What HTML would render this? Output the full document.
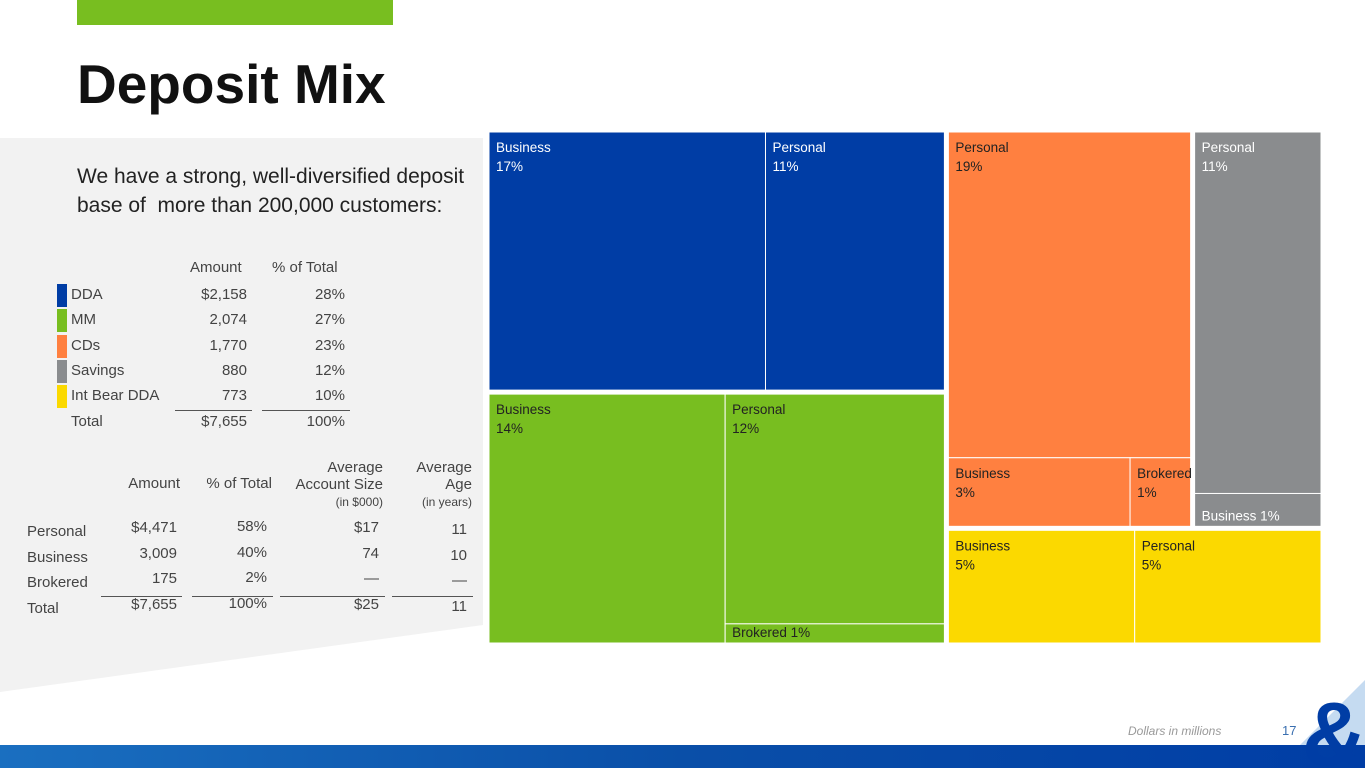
<!DOCTYPE html>
<html><head><meta charset="utf-8"><style>
html,body{margin:0;width:1365px;height:768px;overflow:hidden}
body{background:#fff;font-family:"Liberation Sans",sans-serif;position:relative}
.abs{position:absolute}
.t{position:absolute;font-size:15px;color:#444;white-space:nowrap}
.r{text-align:right}
.ln{position:absolute;height:1px;background:#555}
svg{overflow:hidden}
</style></head><body>
<svg class="abs" style="left:0;top:0" width="1365" height="768">
<polygon points="0,138 483,138 483,625 0,692" fill="#f2f2f2"/>
<rect x="77" y="0" width="316" height="25" fill="#78be20"/>
<defs><linearGradient id="g" x1="0" x2="1"><stop offset="0" stop-color="#1a6fc0"/><stop offset="0.5" stop-color="#0a4fa8"/><stop offset="1" stop-color="#003da5"/></linearGradient></defs>
<rect x="0" y="745" width="1365" height="23" fill="url(#g)"/>
<polygon points="1300,745 1365,680 1365,745" fill="#9fc3e8" opacity="0.6"/>
<text x="1302" y="765" font-family="Liberation Sans" font-weight="bold" font-size="90" fill="#003da5">&amp;</text>
</svg>
<div class="t" style="left:77px;top:52px;font-size:55px;font-weight:900;color:#111">Deposit Mix</div>
<div class="t" style="left:77px;top:162px;font-size:21px;color:#222;line-height:29px">We have a strong, well-diversified deposit<br>base of&nbsp; more than 200,000 customers:</div>

<div>
<div class="t" style="left:190px;top:259px">Amount</div>
<div class="t" style="left:272px;top:259px">% of Total</div>
<div id="pt"></div>
<div class="ln" style="left:175px;top:410px;width:77px"></div>
<div class="ln" style="left:262px;top:410px;width:88px"></div>
</div>

<div>
<div class="t r" style="left:100px;top:475px;width:80px">Amount</div>
<div class="t r" style="left:190px;top:475px;width:82px">% of Total</div>
<div class="t r" style="left:270px;top:459px;width:113px;line-height:17px">Average<br>Account Size<br><span style="font-size:12px">(in $000)</span></div>
<div class="t r" style="left:390px;top:459px;width:82px;line-height:17px">Average<br>Age<br><span style="font-size:12px">(in years)</span></div>
<div id="ct"></div>
<div class="ln" style="left:101px;top:596px;width:81px"></div>
<div class="ln" style="left:192px;top:596px;width:81px"></div>
<div class="ln" style="left:280px;top:596px;width:105px"></div>
<div class="ln" style="left:392px;top:596px;width:81px"></div>
</div>

<svg id="tm" class="abs" style="left:0;top:0" width="1365" height="768"></svg>

<div class="t" style="left:1128px;top:724px;font-size:12px;font-style:italic;color:#999">Dollars in millions</div>
<div class="t" style="left:1282px;top:723px;font-size:13px;color:#3a6fb0">17</div>

<script>
const products=["DDA","MM","CDs","Savings","Int Bear DDA"];
const productAmounts=["$2,158","2,074","1,770","880","773"];
const productPcts=[28,27,23,12,10];
const productColors=["#003da5","#78be20","#ff8040","#8a8c8e","#fbd900"];
const custRows=["Personal","Business","Brokered","Total"];
const custAmt=["$4,471","3,009","175","$7,655"];
const custPct=["58%","40%","2%","100%"];
const custSize=["$17","74","—","$25"];
const custAge=["11","10","—","11"];
const ddaSegs=[["Business",17],["Personal",11]];
const mmSegs=[["Business",14],["Personal",12],["Brokered",1]];
const cdSegs=[["Personal",19],["Business",3],["Brokered",1]];
const savSegs=[["Personal",11],["Business",1]];
const ibSegs=[["Business",5],["Personal",5]];

const pt=document.getElementById('pt');
products.forEach((p,i)=>{
 const y=284+i*25.3;
 const sw=document.createElement('div');sw.className='abs';
 sw.style.cssText=`left:57px;top:${y}px;width:10px;height:23px;background:${productColors[i]}`;
 
 
 pt.appendChild(sw);
 const cells=[[p,71,null],[productAmounts[i],170,77],[productPcts[i]+'%',262,83]];
 cells.forEach(c=>{const d=document.createElement('div');d.className='t'+(c[2]?' r':'');
  d.style.left=c[1]+'px';d.style.top=(y+2)+'px';if(c[2])d.style.width=c[2]+'px';d.textContent=c[0];
  
  
  pt.appendChild(d);});
});
[["Total",71,null],["$7,655",170,77],["100%",262,83]].forEach(c=>{const d=document.createElement('div');d.className='t'+(c[2]?' r':'');
 d.style.left=c[1]+'px';d.style.top='413px';if(c[2])d.style.width=c[2]+'px';d.textContent=c[0];
 
 
 pt.appendChild(d);});

const ct=document.getElementById('ct');
custRows.forEach((r,i)=>{
 const y=521+i*25.5;
 const cells=[[r,27,null,2],[custAmt[i],100,77,-2],[custPct[i],190,77,-3],[custSize[i],280,99,-2],[custAge[i],390,77,0]];
 cells.forEach(c=>{const d=document.createElement('div');d.className='t'+(c[2]?' r':'');
  d.style.left=c[1]+'px';d.style.top=(y+c[3])+'px';if(c[2])d.style.width=c[2]+'px';d.textContent=c[0];
  
  
  ct.appendChild(d);});
});

const svg=document.getElementById('tm');const NS='http://www.w3.org/2000/svg';
const X0=489,Y0=132,W=832,H=511,G=4;
const sum=a=>a.reduce((s,v)=>s+v[1],0);
function rect(x,y,w,h,col,label,val,dark,inline){
 const r=document.createElementNS(NS,'rect');
 r.setAttribute('x',x);r.setAttribute('y',y);r.setAttribute('width',Math.max(0,w));r.setAttribute('height',Math.max(0,h));
 r.setAttribute('fill',col);r.setAttribute('stroke','#fff');r.setAttribute('stroke-width','1');
 
 
 svg.appendChild(r);
 const fc=dark?'#222':'#fff';
 const mk=(tx,ty,s)=>{const t=document.createElementNS(NS,'text');t.setAttribute('x',tx);t.setAttribute('y',ty);
  t.setAttribute('font-size','13.5');t.setAttribute('font-family','Liberation Sans, sans-serif');t.setAttribute('fill',fc);t.textContent=s;
  
  
  svg.appendChild(t);};
 if(inline){mk(x+7,y+h-6,label+' '+val+'%');}
 else{mk(x+7,y+20,label);mk(x+7,y+39,val+'%');}
}
const tot=productPcts.reduce((a,b)=>a+b,0);
const lw=(W-G)*(productPcts[0]+productPcts[1])/tot;
const hD=(H-G)*productPcts[0]/(productPcts[0]+productPcts[1]);
let x=X0;const sD=sum(ddaSegs);
ddaSegs.forEach(s=>{const w=lw*s[1]/sD;rect(x,Y0,w,hD,productColors[0],s[0],s[1],false);x+=w;});
const mY=Y0+hD+G,mH=H-hD-G,sM=sum(mmSegs);
const w1=lw*mmSegs[0][1]/sM;
rect(X0,mY,w1,mH,productColors[1],mmSegs[0][0],mmSegs[0][1],true);
const restM=mmSegs.slice(1),sRM=sum(restM);let yy=mY;
restM.forEach((s,i)=>{const h=mH*s[1]/sRM;rect(X0+w1,yy,lw-w1,h,productColors[1],s[0],s[1],true,i>0);yy+=h;});
const rx=X0+lw+G,rw=W-lw-G;
const topH=(H-G)*(productPcts[2]+productPcts[3])/(productPcts[2]+productPcts[3]+productPcts[4]);
const cw=(rw-G)*productPcts[2]/(productPcts[2]+productPcts[3]);
const sC=sum(cdSegs);const h1=topH*cdSegs[0][1]/sC;
rect(rx,Y0,cw,h1,productColors[2],cdSegs[0][0],cdSegs[0][1],true);
const restC=cdSegs.slice(1),sRC=sum(restC);x=rx;
restC.forEach(s=>{const w=cw*s[1]/sRC;rect(x,Y0+h1,w,topH-h1,productColors[2],s[0],s[1],true);x+=w;});
const sx=rx+cw+G,sw2=rw-cw-G,sS=sum(savSegs);yy=Y0;
savSegs.forEach((s,i)=>{const h=topH*s[1]/sS;rect(sx,yy,sw2,h,productColors[3],s[0],s[1],false,i>0);yy+=h;});
const iy=Y0+topH+G,ih=H-topH-G,sI=sum(ibSegs);x=rx;
ibSegs.forEach(s=>{const w=rw*s[1]/sI;rect(x,iy,w,ih,productColors[4],s[0],s[1],true);x+=w;});
</script>
</body></html>
